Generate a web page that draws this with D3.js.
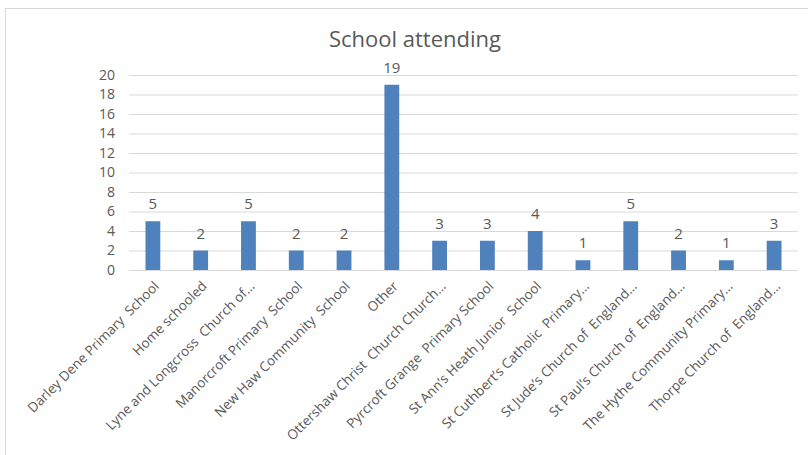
<!DOCTYPE html>
<html><head><meta charset="utf-8">
<script src="https://cdn.jsdelivr.net/npm/d3@7"></script>
<style>
body{margin:0;background:#fff;}
text{font-family:"Open Sans","Noto Sans",sans-serif;fill:#595959;}
</style></head>
<body>
<svg id="chart" width="808" height="455"></svg>
<script>
const title = "School attending";
const categories = [
  "Darley Dene Primary  School",
  "Home schooled",
  "Lyne and Longcross  Church of…",
  "Manorcroft Primary  School",
  "New Haw Community  School",
  "Other",
  "Ottershaw Christ  Church Church…",
  "Pyrcroft Grange  Primary School",
  "St Ann’s Heath Junior  School",
  "St Cuthbert’s Catholic  Primary…",
  "St Jude’s Church of  England…",
  "St Paul’s Church of  England…",
  "The Hythe Community Primary…",
  "Thorpe Church of  England…"
];
const values = [5, 2, 5, 2, 2, 19, 3, 3, 4, 1, 5, 2, 1, 3];
const yTicks = [0, 2, 4, 6, 8, 10, 12, 14, 16, 18, 20];

const svg = d3.select("#chart");
const m = {left:129, right:798, top:75, bottom:270};

// outer chart frame (cropped at right & bottom)
svg.append("rect").attr("x",5.5).attr("y",8.5).attr("width",900).attr("height",600)
  .attr("fill","none").attr("stroke","#d9d9d9").attr("stroke-width",1);

const x = d3.scaleBand().domain(categories).range([m.left, m.right]).paddingInner(0.69).paddingOuter(0.345);
const y = d3.scaleLinear().domain([0, 20]).range([m.bottom, m.top]);

// gridlines
svg.append("g").selectAll("line").data(yTicks).join("line")
  .attr("x1", m.left).attr("x2", m.right)
  .attr("y1", d => y(d)+0.5).attr("y2", d => y(d)+0.5)
  .attr("stroke", "#d9d9d9").attr("stroke-width", 1);

// y axis labels
const yAxis = d3.axisLeft(y).tickValues(yTicks).tickSize(0).tickPadding(14);
const gy = svg.append("g").attr("transform", `translate(${m.left},0)`).call(yAxis);
gy.select(".domain").remove();
gy.selectAll("text").attr("font-size", 14).style("font-family",'"Open Sans",sans-serif').attr("fill","#595959");

// bars
svg.append("g").selectAll("rect").data(values).join("rect")
  .attr("x", (d,i) => x(categories[i]))
  .attr("width", x.bandwidth())
  .attr("y", d => y(d))
  .attr("height", d => y(0) - y(d))
  .attr("fill", "#4f81bd");

// value labels
svg.append("g").selectAll("text").data(values).join("text")
  .attr("x", (d,i) => x(categories[i]) + x.bandwidth()/2)
  .attr("y", d => y(d) - 12)
  .attr("text-anchor", "middle")
  .attr("font-size", 15)
  .text(d => d);

// x axis category labels
const xAxis = d3.axisBottom(x).tickSize(0).tickPadding(0);
const gx = svg.append("g").attr("transform", `translate(0,${m.bottom})`).call(xAxis);
gx.select(".domain").remove();
gx.selectAll(".tick text")
  .attr("font-size", 13.5)
  .style("font-family",'"Open Sans",sans-serif')
  .attr("fill","#595959")
  .style("white-space","pre")
  .attr("text-anchor","end")
  .attr("dy", null)
  .attr("y", 0)
  .attr("transform","translate(7,17) rotate(-45)");

// title
svg.append("text").attr("x", 415).attr("y", 47).attr("text-anchor","middle")
  .attr("font-size", 22).text(title);
</script>
</body></html>
